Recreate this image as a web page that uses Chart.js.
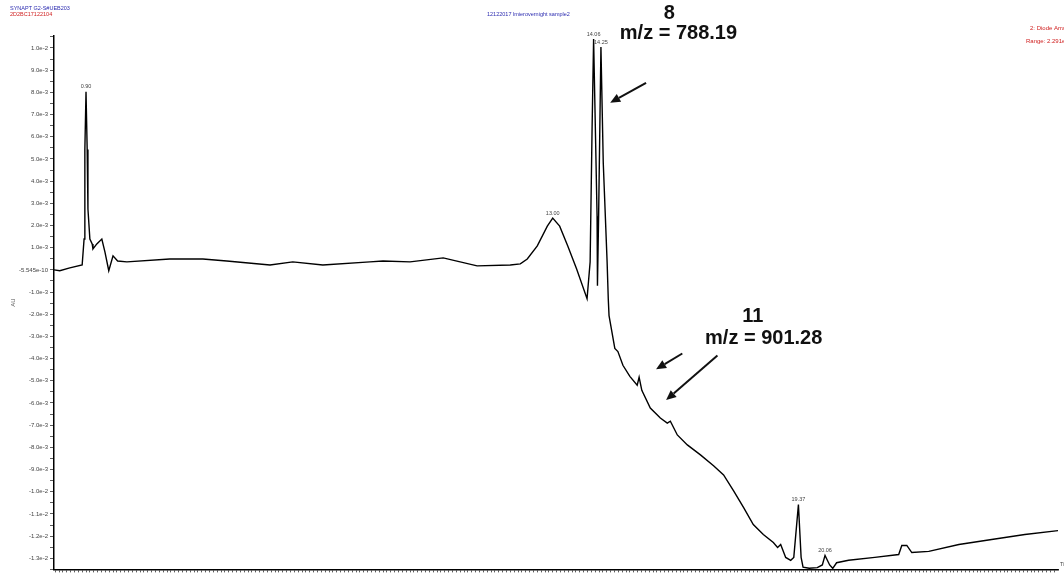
<!DOCTYPE html>
<html>
<head>
<meta charset="utf-8">
<script src="https://cdn.jsdelivr.net/npm/chart.js@4.4.1/dist/chart.umd.min.js"></script>
<style>
  html, body { margin: 0; padding: 0; background: #fff; }
  #wrap { width: 1064px; height: 575px; position: relative; }
</style>
</head>
<body>
<div id="wrap"><canvas id="trace"></canvas></div>
<script>
// retention time (min)
const times = [
  0.07, 0.22, 0.48, 0.80, 0.85, 0.87, 0.90, 0.93, 0.95, 1.00, 1.06, 1.08, 1.18, 1.31, 1.39, 1.49, 1.60, 1.72,
  1.96, 3.07, 3.93, 4.55, 5.67, 6.26, 7.04, 8.26, 8.60, 9.30, 10.16, 11.04, 11.90, 12.16, 12.34, 12.60, 12.86,
  13.00, 13.18, 13.39, 13.62, 13.89, 13.97, 14.02, 14.06, 14.15, 14.16, 14.19, 14.25, 14.31, 14.41, 14.44,
  14.46, 14.61, 14.69, 14.82, 15.00, 15.19, 15.24, 15.31, 15.53, 15.79, 15.97, 16.05, 16.23, 16.49, 16.83,
  17.17, 17.43, 17.69, 17.95, 18.20, 18.46, 18.72, 18.83, 18.91, 19.04, 19.17, 19.25, 19.37, 19.44, 19.49,
  19.65, 19.86, 19.99, 20.06, 20.18, 20.26, 20.36, 20.67, 21.35, 21.97, 22.05, 22.18, 22.31, 22.75, 23.53,
  24.38, 25.24, 26.12
];
// absorbance (AU)
const absorbance = [
  0, -0.04e-3, 0.09e-3, 0.22e-3, 1.39e-3, 5.43e-3, 8.03e-3, 5.43e-3, 2.74e-3, 1.39e-3, 1.17e-3, 0.94e-3, 1.17e-3,
  1.39e-3, 0.81e-3, -0.04e-3, 0.63e-3, 0.40e-3,
  0.36e-3, 0.49e-3, 0.49e-3, 0.40e-3, 0.22e-3, 0.36e-3, 0.22e-3, 0.36e-3, 0.40e-3, 0.36e-3, 0.54e-3, 0.18e-3,
  0.22e-3, 0.27e-3, 0.49e-3, 1.08e-3, 1.97e-3,
  2.33e-3, 1.97e-3, 1.08e-3, 0.04e-3, -1.30e-3, 0.36e-3, 6.32e-3, 10.40e-3, 2.42e-3, -0.72e-3, 2.42e-3, 10.04e-3,
  4.84e-3, 0.36e-3, -1.30e-3,
  -2.06e-3, -3.54e-3, -3.68e-3, -4.30e-3, -4.80e-3, -5.20e-3, -4.84e-3, -5.43e-3, -6.23e-3, -6.68e-3, -6.91e-3,
  -6.82e-3, -7.44e-3, -7.89e-3, -8.34e-3,
  -8.83e-3, -9.24e-3, -9.96e-3, -10.72e-3, -11.48e-3, -11.93e-3, -12.29e-3, -12.51e-3, -12.38e-3, -12.96e-3,
  -13.09e-3, -12.96e-3, -10.58e-3, -12.96e-3, -13.40e-3,
  -13.45e-3, -13.42e-3, -13.30e-3, -12.87e-3, -13.30e-3, -13.45e-3, -13.20e-3, -13.09e-3, -12.96e-3, -12.83e-3,
  -12.42e-3, -12.42e-3, -12.74e-3, -12.69e-3, -12.38e-3,
  -12.15e-3, -11.93e-3, -11.75e-3
];

const peakTimes = [0.90, 13.00, 14.06, 14.25, 19.37, 20.06];
const peakLabels = ["0.90", "13.00", "14.06", "14.25", "19.37", "20.06"];

// callouts: text lines and arrows, in (time, AU)
const calloutTexts = [
  { text: "8", t: 16.02, v: 11.57e-3 },
  { text: "m/z = 788.19", t: 16.26, v: 10.67e-3 },
  { text: "11", t: 18.19, v: -2.11e-3 },
  { text: "m/z = 901.28", t: 18.47, v: -3.09e-3 }
];
const calloutArrows = [
  { t0: 15.42, v0: 8.43e-3, t1: 14.49, v1: 7.53e-3 },
  { t0: 16.36, v0: -3.77e-3, t1: 15.68, v1: -4.48e-3 },
  { t0: 17.27, v0: -3.86e-3, t1: 15.94, v1: -5.87e-3 }
];

const headerLeft = ["SYNAPT G2-S#UEB203", "2D2BC17122104"];
const headerCenter = "12122017 lmierovernight sample2";
const headerRight = ["2: Diode Array", "Range: 2.291e-2"];

const points = times.map((t, i) => ({ x: t, y: absorbance[i] }));

const overlay = {
  id: "overlay",
  afterDraw(chart) {
    const ctx = chart.ctx;
    const xs = chart.scales.x, ys = chart.scales.y;
    ctx.save();

    // header texts
    ctx.font = "5.5px 'Liberation Sans', Arial, sans-serif";
    ctx.textBaseline = "middle";
    ctx.textAlign = "left";
    ctx.fillStyle = "#2b2bb0";
    ctx.fillText(headerLeft[0], 10, 8);
    ctx.fillStyle = "#d02020";
    ctx.fillText(headerLeft[1], 10, 14);
    ctx.fillStyle = "#2b2bb0";
    ctx.fillText(headerCenter, 487, 14);
    ctx.font = "6px 'Liberation Sans', Arial, sans-serif";
    ctx.fillStyle = "#d02020";
    ctx.fillText(headerRight[0], 1030, 28);
    ctx.fillText(headerRight[1], 1026, 41);

    // peak labels
    ctx.font = "5.5px 'Liberation Sans', Arial, sans-serif";
    ctx.fillStyle = "#444";
    ctx.textAlign = "center";
    ctx.textBaseline = "bottom";
    peakTimes.forEach((t, i) => {
      const idx = times.indexOf(t);
      const px = xs.getPixelForValue(t);
      const py = ys.getPixelForValue(absorbance[idx]);
      ctx.fillText(peakLabels[i], px, py - 2);
    });

    // time axis hint
    ctx.textAlign = "left";
    ctx.textBaseline = "middle";
    ctx.fillText("Time", chart.chartArea.right + 2, chart.chartArea.bottom - 5);

    // callout text
    ctx.fillStyle = "#111";
    ctx.font = "bold 20px 'Liberation Sans', Arial, sans-serif";
    ctx.textAlign = "center";
    calloutTexts.forEach(c => {
      ctx.fillText(c.text, xs.getPixelForValue(c.t), ys.getPixelForValue(c.v));
    });

    // callout arrows
    ctx.strokeStyle = "#111";
    ctx.fillStyle = "#111";
    ctx.lineWidth = 2;
    calloutArrows.forEach(a => {
      const x0 = xs.getPixelForValue(a.t0), y0 = ys.getPixelForValue(a.v0);
      const x1 = xs.getPixelForValue(a.t1), y1 = ys.getPixelForValue(a.v1);
      const ang = Math.atan2(y1 - y0, x1 - x0);
      const hl = 10, hw = 4.5;
      const bx = x1 - hl * Math.cos(ang), by = y1 - hl * Math.sin(ang);
      ctx.beginPath();
      ctx.moveTo(x0, y0);
      ctx.lineTo(bx, by);
      ctx.stroke();
      ctx.beginPath();
      ctx.moveTo(x1, y1);
      ctx.lineTo(bx + hw * Math.sin(ang), by - hw * Math.cos(ang));
      ctx.lineTo(bx - hw * Math.sin(ang), by + hw * Math.cos(ang));
      ctx.closePath();
      ctx.fill();
    });

    ctx.restore();
  }
};

new Chart(document.getElementById("trace"), {
  type: "line",
  data: {
    datasets: [{
      data: points,
      borderColor: "#000",
      borderWidth: 1.4,
      pointRadius: 0,
      tension: 0,
      fill: false
    }]
  },
  options: {
    responsive: true,
    maintainAspectRatio: false,
    animation: false,
    layout: { padding: { left: 0, right: 6, top: 36, bottom: 0 } },
    plugins: { legend: { display: false }, tooltip: { enabled: false } },
    scales: {
      x: {
        type: "linear",
        min: 0.07,
        max: 26.1,
        afterBuildTicks: scale => {
          const out = [];
          for (let i = 1; i <= 260; i++) out.push({ value: i * 0.1 });
          scale.ticks = out;
        },
        afterFit: scale => { scale.height = 3; },
        ticks: { display: false, autoSkip: false },
        grid: { drawOnChartArea: false, tickLength: 3, color: "#333", lineWidth: 0.8 },
        border: { color: "#000", width: 1.5 }
      },
      y: {
        min: -13.5e-3,
        max: 10.54e-3,
        afterBuildTicks: scale => {
          const out = [];
          for (let i = -27; i <= 21; i++) out.push({ value: i * 0.5e-3 });
          scale.ticks = out;
        },
        afterFit: scale => { scale.width = 54; },
        title: {
          display: true,
          text: "AU",
          color: "#555",
          font: { size: 6, family: "'Liberation Sans', Arial, sans-serif" },
          padding: { top: 10, bottom: 0 }
        },
        ticks: {
          autoSkip: false,
          color: "#444",
          padding: 2,
          font: { size: 6, family: "'Liberation Sans', Arial, sans-serif" },
          callback: v => {
            const k = Math.round(v / 0.5e-3);
            if (k % 2 !== 0) return "";
            if (k === 0) return "-5.545e-10";
            return (k * 0.5e-3).toExponential(1);
          }
        },
        grid: { drawOnChartArea: false, tickLength: 4, color: "#333", lineWidth: 0.8 },
        border: { color: "#000", width: 1.5 }
      }
    }
  },
  plugins: [overlay]
});
</script>
</body>
</html>
